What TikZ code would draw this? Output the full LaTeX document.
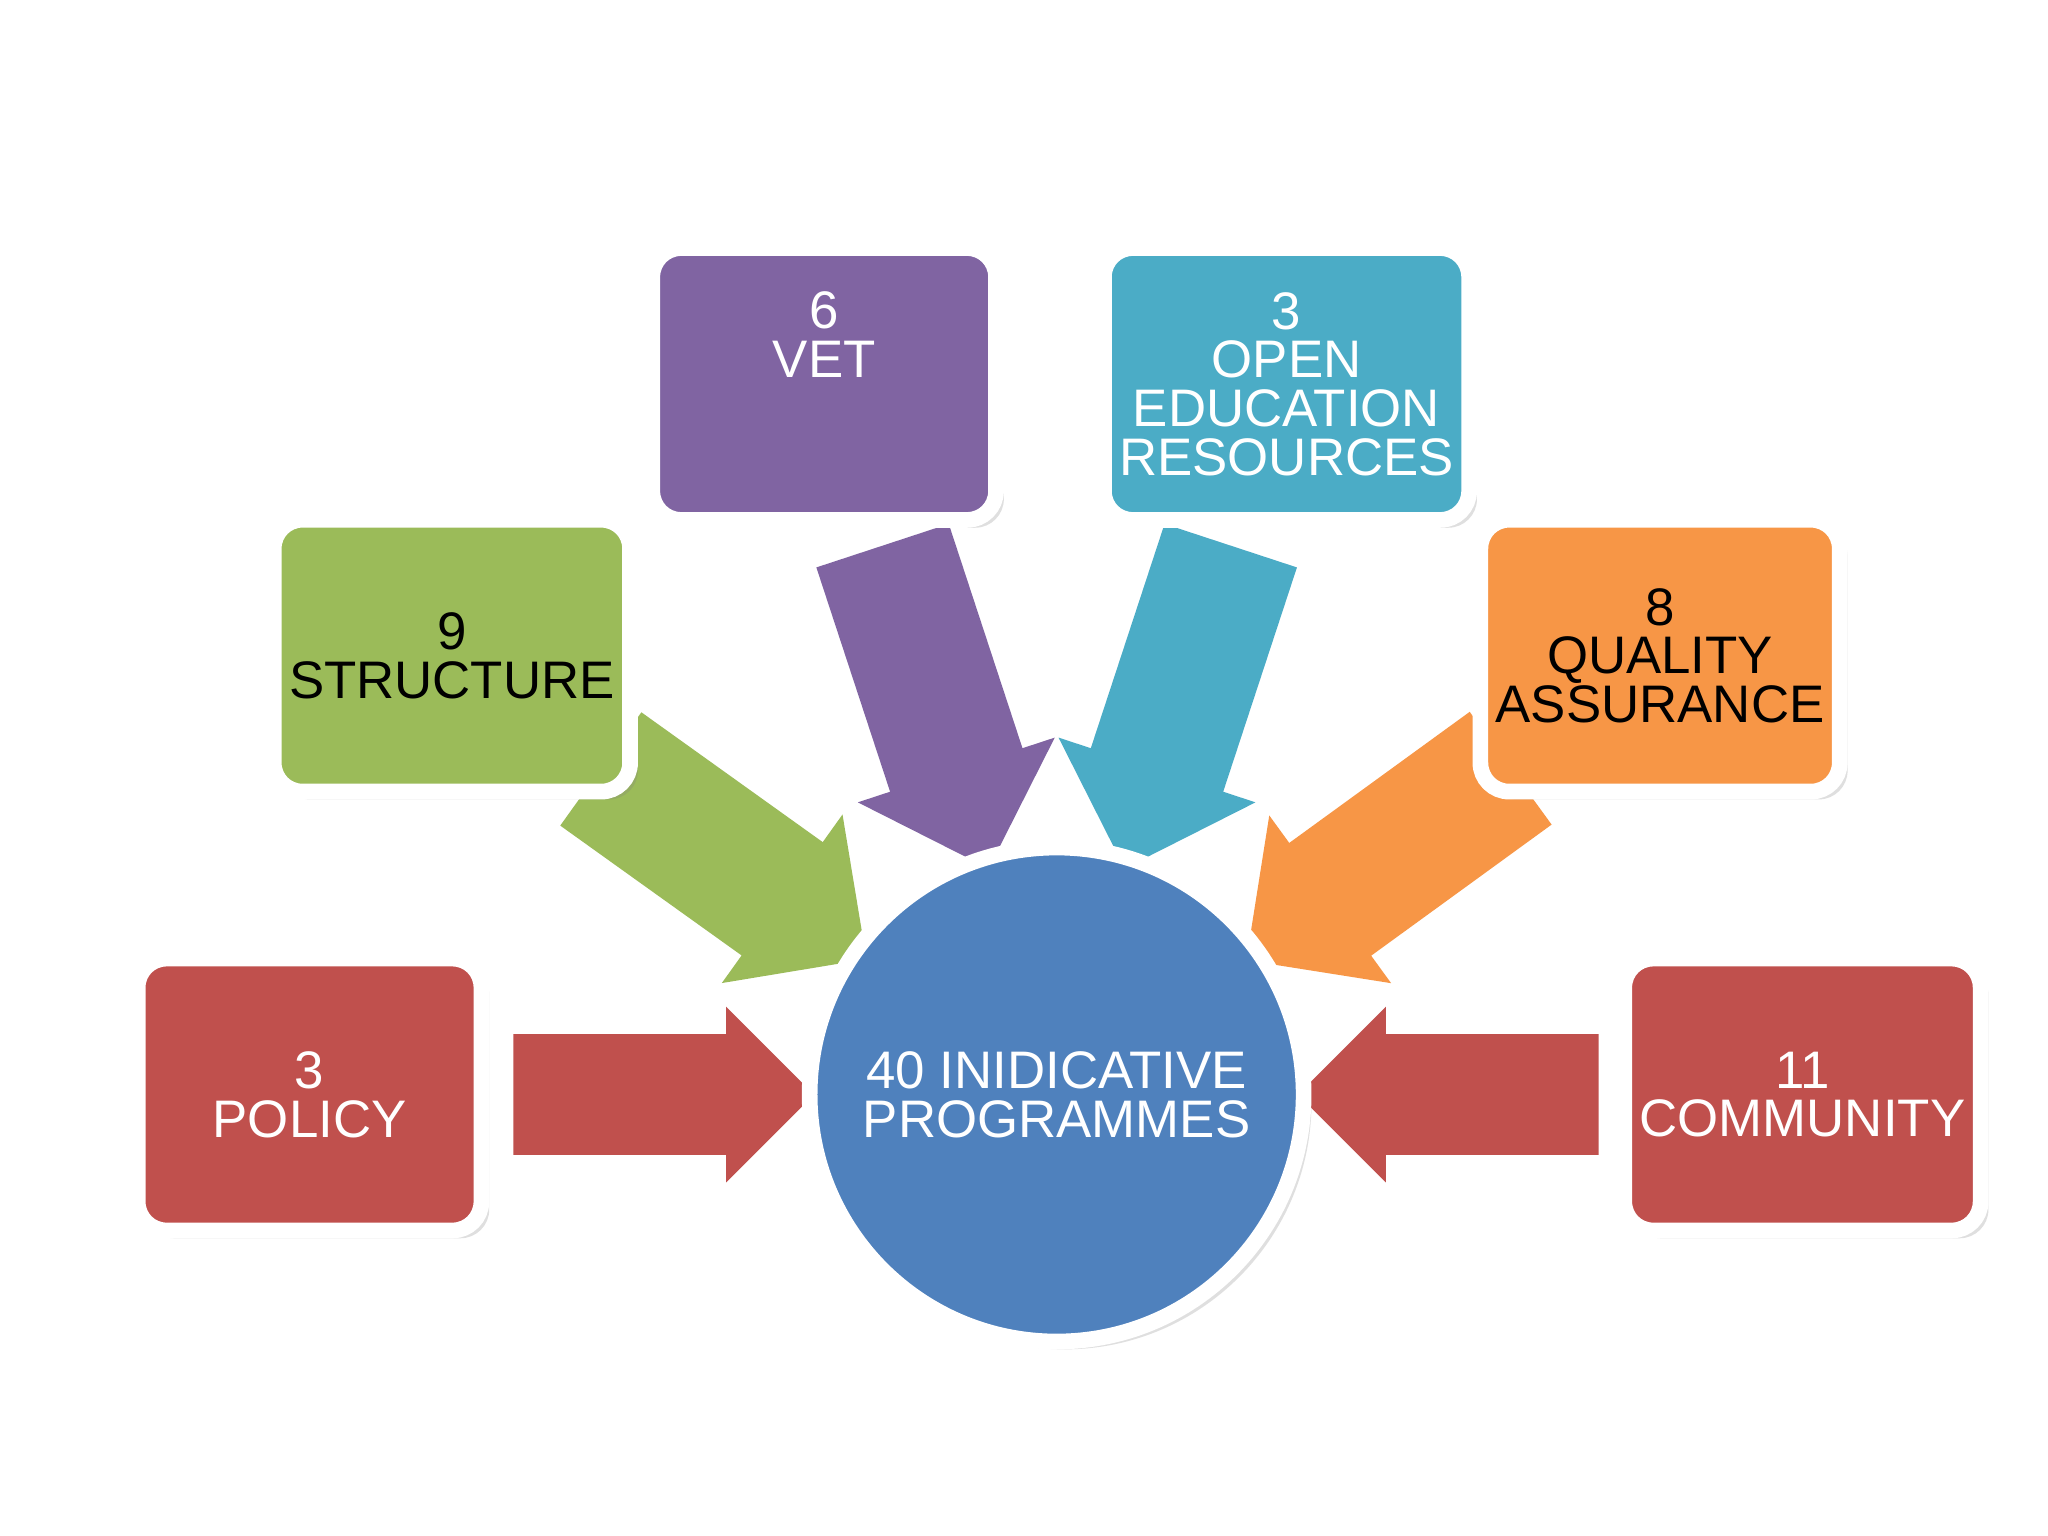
\documentclass[tikz,border=0pt]{standalone}
\usepackage{fontspec}
\setmainfont{Liberation Sans}
\usetikzlibrary{positioning}
\usetikzlibrary{shapes.arrows,shadows}
\definecolor{REDBOX}{HTML}{C0504D}
\definecolor{GREENBOX}{HTML}{9BBB59}
\definecolor{PURPLEBOX}{HTML}{8064A2}
\definecolor{CYANBOX}{HTML}{4BACC6}
\definecolor{ORANGEBOX}{HTML}{F79646}
\definecolor{BLUEBOX}{HTML}{4F81BD}
\tikzset{
	box/.style={draw=white, line width=1.2mm, rounded corners=2.2mm, minimum width=2.63cm, minimum height=2.08cm, align=center, font=\fontsize{11.5}{10.6}\selectfont, drop shadow={opacity=0.25, shadow xshift=0.6mm, shadow yshift=-0.6mm}},
	bigarrow/.style={single arrow, draw=none, inner xsep=0pt, inner ysep=0.32cm, single arrow head extend=0.21cm, shape border uses incircle, text width=0pt},
	diagarrow/.style={bigarrow, inner ysep=0.37cm, single arrow head extend=0.26cm},
}
\begin{document}
\begin{tikzpicture}[x=0.01cm, y=-0.01cm]
			\useasboundingbox[fill=white] (0,0) rectangle (1568,1176);
			% arrows towards the centre
			\node[bigarrow, fill=REDBOX, minimum height=2.3cm] (arrpolicy) at (485,838) {};
			\node[bigarrow, fill=REDBOX, minimum height=2.3cm, rotate=180] (arrcommunity) at (1132,838) {};
			\node[diagarrow, fill=GREENBOX, minimum height=2.5cm, rotate=-35.6] (arrstructure) at (540,646) {};
			\node[diagarrow, fill=PURPLEBOX, minimum height=2.6cm, rotate=-71.8] (arrvet) at (708,516) {};
			\node[diagarrow, fill=CYANBOX, minimum height=2.6cm, rotate=-108.2] (arroer) at (910,516) {};
			\node[diagarrow, fill=ORANGEBOX, minimum height=2.5cm, rotate=-144] (arrqa) at (1077,646) {};
			% boxes
			\node[box, fill=REDBOX, text=white] (policy) at (237,838) {3\\POLICY};
			\node[box, fill=GREENBOX, text=black] (structure) at (346,502) {9\\STRUCTURE};
			\node[box, fill=PURPLEBOX, text=white] (vet) at (631,294) {6\\VET\\[3.8mm]};
			\node[box, fill=CYANBOX, text=white] (oer) at (985,294) {3\\OPEN\\EDUCATION\\RESOURCES};
			\node[box, fill=ORANGEBOX, text=black] (qa) at (1271,502) {8\\QUALITY\\ASSURANCE};
			\node[box, fill=REDBOX, text=white] (community) at (1380,838) {11\\COMMUNITY};
			\node[circle, draw=white, line width=1.2mm, fill=BLUEBOX, text=white, minimum size=3.78cm, align=center, font=\fontsize{11.5}{10.6}\selectfont, drop shadow={opacity=0.25, shadow xshift=0.6mm, shadow yshift=-0.6mm}] (centre) at (809,838) {40 INIDICATIVE\\PROGRAMMES};
		\end{tikzpicture}
\end{document}
